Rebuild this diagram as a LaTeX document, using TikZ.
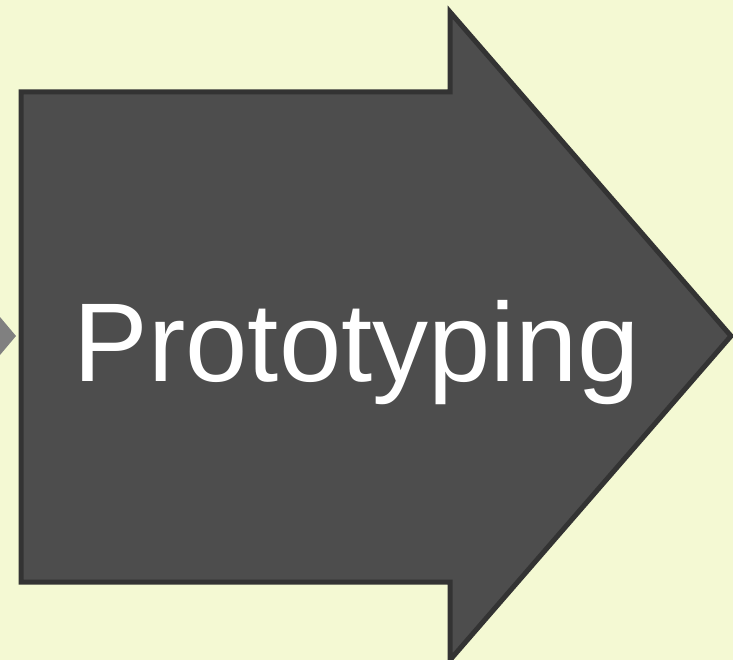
\documentclass[tikz,border=0pt]{standalone}
\usepackage{fontspec}
\setmainfont{Liberation Sans}
\usepackage{tikz}
\usetikzlibrary{positioning}

\definecolor{bgyellow}{HTML}{F4F9D3}
\definecolor{arrowfill}{HTML}{4D4D4D}
\definecolor{arrowline}{HTML}{333333}
\definecolor{prevtip}{HTML}{808080}

\begin{document}
\begin{tikzpicture}[
  x=1pt, y=-1pt,
  stage/.style={draw=arrowline, fill=arrowfill, line width=5pt, line join=miter},
  label/.style={text=white, font=\fontsize{112}{120}\selectfont, inner sep=0pt},
]
  % background and bounds
  \fill[bgyellow] (0,0) rectangle (733,660);
  \useasboundingbox (0,0) rectangle (733,660);

  % tip of the previous stage
  \fill[prevtip] (0,317) -- (16,336) -- (0,355) -- cycle;

  % the stage arrow
  \draw[stage] (21,92) -- (450,92) -- (450,12) -- (731,336)
    -- (450,660) -- (450,582) -- (21,582) -- cycle;

  \node[label, anchor=base] (proto) at (357,381) {Prototyping};
\end{tikzpicture}
\end{document}
